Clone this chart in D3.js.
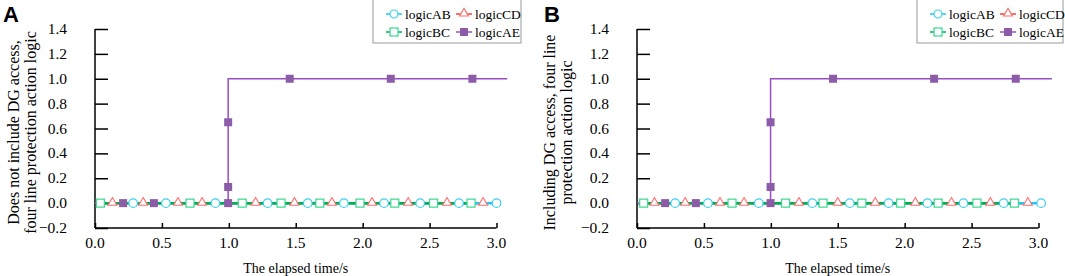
<!DOCTYPE html>
<html lang="en">
<head>
<meta charset="UTF-8">
<script src="https://d3js.org/d3.v7.min.js"></script>
<style>
  body { margin: 0; background: #fff; }
  svg { display: block; }
  text { font-family: "Liberation Serif", "Times New Roman", serif; fill: #000; }
</style>
</head>
<body>
<div id="chart"></div>
<script>
// ---------------- data ----------------
var seriesNames = ["logicAB", "logicBC", "logicCD", "logicAE"];
var yTicks = [-0.2, 0.0, 0.2, 0.4, 0.6, 0.8, 1.0, 1.2, 1.4];
var xTicks = [0.0, 0.5, 1.0, 1.5, 2.0, 2.5, 3.0];

// panel A (without DG)
var abTimesA = [0.285, 0.53, 0.90, 1.29, 1.59, 1.86, 2.16, 2.43, 2.72, 3.0];
var bcTimesA = [0.04, 0.71, 1.10, 1.39, 1.68, 1.98, 2.24, 2.53, 2.81];
var cdTimesA = [0.13, 0.36, 0.62, 0.80, 1.20, 1.49, 1.77, 2.07, 2.34, 2.63, 2.90];
var aeTimesA = [0.21, 0.44, 0.995, 0.995, 0.995, 1.455, 2.21, 2.82];
var aeValuesA = [0, 0, 0, 0.13, 0.65, 1, 1, 1];
var aeLineTA = [0.0, 0.995, 0.995, 3.08];
var aeLineVA = [0, 0, 1, 1];

// panel B (with DG)
var abTimesB = [0.285, 0.53, 0.91, 1.31, 1.59, 1.88, 2.17, 2.44, 2.74, 3.02];
var bcTimesB = [0.05, 0.71, 1.11, 1.39, 1.68, 1.97, 2.25, 2.54, 2.82];
var cdTimesB = [0.13, 0.36, 0.62, 0.80, 1.21, 1.50, 1.78, 2.08, 2.35, 2.64, 2.92];
var aeTimesB = [0.21, 0.44, 0.998, 0.998, 0.998, 1.465, 2.22, 2.83];
var aeValuesB = [0, 0, 0, 0.13, 0.65, 1, 1, 1];
var aeLineTB = [0.0, 0.998, 0.998, 3.10];
var aeLineVB = [0, 0, 1, 1];

var colors = {logicAB: "#38d0f0", logicBC: "#3ad890", logicCD: "#ff6e6e", logicAE: "#8c5ca8"};
var lineColors = {logicAB: "#20c8f0", logicBC: "#00b050", logicCD: "#ff4040", logicAE: "#9a4cc4"};

// ---------------- drawing ----------------
var svg = d3.select("#chart").append("svg")
    .attr("width", 1065).attr("height", 276);

function zeros(a) { return a.map(function() { return 0; }); }

function drawPanel(opt) {
    var g = svg.append("g");
    var x = d3.scaleLinear().domain([0, 3]).range([opt.left, opt.left + 401.5]);
    var y = d3.scaleLinear().domain([-0.2, 1.4]).range([228, 29]);

    // panel letter
    g.append("text").attr("x", opt.letterX).attr("y", 22)
        .style("font-family", "'Liberation Sans', Arial, sans-serif")
        .style("font-weight", "bold").style("font-size", "22px")
        .text(opt.letter);

    // y axis (ticks pointing inward)
    var yAxis = g.append("g").attr("transform", "translate(" + opt.left + ",0)")
        .call(d3.axisRight(y).tickValues(yTicks).tickSize(13).tickFormat(d3.format(".1f")));
    yAxis.selectAll("text").remove();
    yAxis.select(".domain").attr("d", "M0," + y(1.4) + "V" + y(-0.2));
    yAxis.selectAll("line").attr("stroke-width", 1.5);
    yAxis.select(".domain").attr("stroke-width", 1.5);
    g.selectAll(".ylab").data(yTicks).enter().append("text")
        .attr("class", "ylab")
        .attr("x", opt.left - 28).attr("y", function(d) { return y(d) + 5; })
        .attr("text-anchor", "end").style("font-size", "15.5px")
        .text(function(d) { return d3.format(".1f")(d); });

    // x axis (ticks pointing inward)
    var xAxis = g.append("g").attr("transform", "translate(0," + y(-0.2) + ")")
        .call(d3.axisTop(x).tickValues(xTicks).tickSize(5));
    xAxis.selectAll("text").remove();
    xAxis.select(".domain").attr("d", "M" + x(0) + ",0H" + x(3));
    xAxis.selectAll("line").attr("stroke-width", 1.5);
    xAxis.select(".domain").attr("stroke-width", 1.5);
    g.selectAll(".xlab").data(xTicks).enter().append("text")
        .attr("class", "xlab")
        .attr("x", function(d) { return x(d); }).attr("y", 248)
        .attr("text-anchor", "middle").style("font-size", "15.5px")
        .text(function(d) { return d3.format(".1f")(d); });

    g.append("text").attr("x", x(1.5)).attr("y", 273)
        .attr("text-anchor", "middle").style("font-size", "14px")
        .text("The elapsed time/s");

    // y title, two lines
    var cy = (y(1.4) + y(-0.2)) / 2 + 4;
    opt.yTitle.forEach(function(t, i) {
        g.append("text")
            .attr("transform", "translate(" + opt.titleX[i] + "," + cy + ") rotate(-90)")
            .attr("text-anchor", "middle").attr("dy", "0.35em").style("font-size", "16px")
            .text(t);
    });

    var line = d3.line().x(function(d) { return x(d[0]); }).y(function(d) { return y(d[1]); });

    // lines
    g.append("path").datum(d3.zip(opt.aeLineT, opt.aeLineV))
        .attr("d", line).attr("fill", "none")
        .attr("stroke", lineColors.logicAE).attr("stroke-width", 1.5);
    [["logicCD", opt.cd], ["logicAB", opt.ab], ["logicBC", opt.bc]].forEach(function(s) {
        var ts = s[1];
        g.append("path").datum([[d3.min(ts), 0], [d3.max(ts), 0]])
            .attr("d", line).attr("fill", "none")
            .attr("stroke", lineColors[s[0]]).attr("stroke-width", 2.5);
    });

    // markers
    g.selectAll(".mAE").data(d3.zip(opt.aeT, opt.aeV)).enter().append("rect")
        .attr("x", function(d) { return x(d[0]) - 4; }).attr("y", function(d) { return y(d[1]) - 4; })
        .attr("width", 8).attr("height", 8).attr("fill", colors.logicAE);
    g.selectAll(".mBC").data(d3.zip(opt.bc, zeros(opt.bc))).enter().append("rect")
        .attr("x", function(d) { return x(d[0]) - 4; }).attr("y", function(d) { return y(d[1]) - 4; })
        .attr("width", 8).attr("height", 8).attr("fill", "#fff")
        .attr("stroke", colors.logicBC).attr("stroke-width", 1.2);
    g.selectAll(".mAB").data(d3.zip(opt.ab, zeros(opt.ab))).enter().append("circle")
        .attr("cx", function(d) { return x(d[0]); }).attr("cy", function(d) { return y(d[1]); })
        .attr("r", 4.3).attr("fill", "#fff")
        .attr("stroke", colors.logicAB).attr("stroke-width", 1.2);
    var tri = d3.symbol().type(d3.symbolTriangle).size(34);
    g.selectAll(".mCD").data(d3.zip(opt.cd, zeros(opt.cd))).enter().append("path")
        .attr("d", tri)
        .attr("transform", function(d) { return "translate(" + x(d[0]) + "," + (y(d[1]) - 0.5) + ")"; })
        .attr("fill", "#fff").attr("stroke", colors.logicCD).attr("stroke-width", 1.1);

    // legend
    var lg = g.append("g").attr("transform", "translate(" + opt.legX + ",0)");
    lg.append("rect").attr("x", 0).attr("y", -1).attr("width", opt.legW).attr("height", 44)
        .attr("fill", "#fff").attr("stroke", "#999").attr("stroke-width", 1);
    var pos = [[13, 14], [13, 32], [83, 14], [83, 32]];
    seriesNames.forEach(function(name, i) {
        var px = pos[i][0], py = pos[i][1];
        lg.append("line").attr("x1", px).attr("x2", px + 16).attr("y1", py).attr("y2", py)
            .attr("stroke", lineColors[name]).attr("stroke-width", 1.5);
        var cx = px + 8;
        if (name === "logicAB") {
            lg.append("circle").attr("cx", cx).attr("cy", py).attr("r", 4)
                .attr("fill", "#fff").attr("stroke", colors.logicAB).attr("stroke-width", 1.2);
        } else if (name === "logicBC") {
            lg.append("rect").attr("x", cx - 4).attr("y", py - 4).attr("width", 8).attr("height", 8)
                .attr("fill", "#fff").attr("stroke", colors.logicBC).attr("stroke-width", 1.2);
        } else if (name === "logicCD") {
            lg.append("path").attr("d", tri).attr("transform", "translate(" + cx + "," + (py - 0.5) + ")")
                .attr("fill", "#fff").attr("stroke", colors.logicCD).attr("stroke-width", 1.1);
        } else {
            lg.append("rect").attr("x", cx - 4).attr("y", py - 4).attr("width", 8).attr("height", 8)
                .attr("fill", colors.logicAE);
        }
        lg.append("text").attr("x", px + 19).attr("y", py + 5)
            .style("font-size", "13.5px").text(name);
    });
}

drawPanel({
    letter: "A", letterX: 3, left: 95, titleX: [13, 30],
    yTitle: ["Does not include DG access,", "four line protection action logic"],
    ab: abTimesA, bc: bcTimesA, cd: cdTimesA,
    aeT: aeTimesA, aeV: aeValuesA, aeLineT: aeLineTA, aeLineV: aeLineVA,
    legX: 373, legW: 148
});

drawPanel({
    letter: "B", letterX: 544, left: 637, titleX: [549, 566],
    yTitle: ["Including DG access, four line", "protection action logic"],
    ab: abTimesB, bc: bcTimesB, cd: cdTimesB,
    aeT: aeTimesB, aeV: aeValuesB, aeLineT: aeLineTB, aeLineV: aeLineVB,
    legX: 917, legW: 146
});
</script>
</body>
</html>
